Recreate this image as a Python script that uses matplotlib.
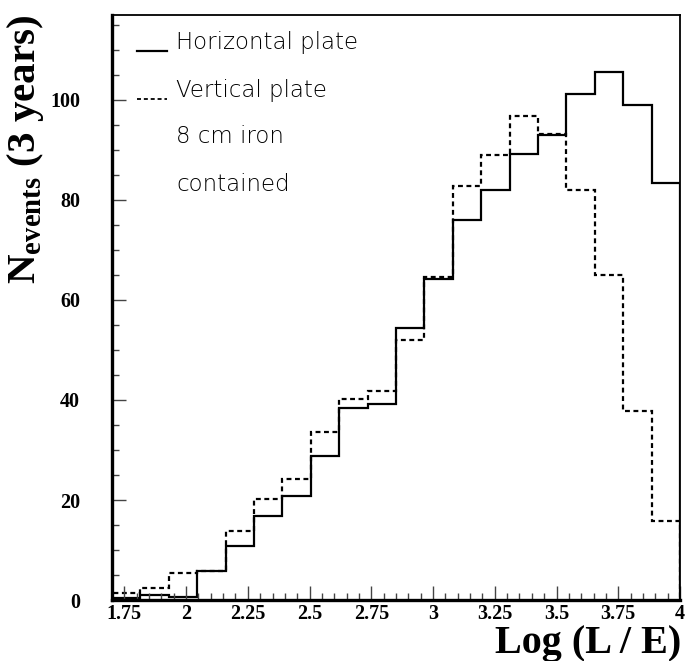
import numpy as np
import matplotlib
matplotlib.use("Agg")
import matplotlib.pyplot as plt

# ---- data ----
bin_edges_range = (1.7, 4.0)
n_bins = 20
horizontal = [0.5, 1.0, 0.6, 5.8, 10.9, 16.9, 20.9, 28.8, 38.5, 39.2,
              54.3, 64.1, 76.0, 82.0, 89.2, 93.0, 101.2, 105.5, 99.0, 83.4]
vertical = [1.5, 2.5, 5.5, 5.8, 13.9, 20.3, 24.2, 33.6, 40.2, 41.7,
            52.0, 64.5, 82.7, 88.9, 96.7, 93.1, 81.9, 65.0, 37.7, 15.9]
xticks = [1.75, 2, 2.25, 2.5, 2.75, 3, 3.25, 3.5, 3.75, 4]
xtick_labels = ["1.75", "2", "2.25", "2.5", "2.75", "3", "3.25", "3.5", "3.75", "4"]
yticks = [0, 20, 40, 60, 80, 100]
legend_lines = ["Horizontal plate", "Vertical plate", "8 cm iron", "contained"]

plt.rcParams['mathtext.fontset'] = 'custom'
plt.rcParams['mathtext.bf'] = 'Liberation Serif:bold'
plt.rcParams['mathtext.rm'] = 'Liberation Serif:bold'

W, H = 686, 661
fig = plt.figure(figsize=(W / 100, H / 100), dpi=100)
x0, x1, ytop, ybot = 112, 680, 15, 600
ax = fig.add_axes([x0 / W, 1 - ybot / H, (x1 - x0) / W, (ybot - ytop) / H])

edges = np.linspace(bin_edges_range[0], bin_edges_range[1], n_bins + 1)
ax.stairs(horizontal, edges, color='black', lw=1.6, baseline=0)
ax.stairs(vertical, edges, color='black', lw=1.6, baseline=0,
          linestyle=(0, (2.2, 1.6)))

ax.set_xlim(1.7, 4.0)
ax.set_ylim(0, 117)

ax.set_xticks(xticks)
ax.set_xticklabels(xtick_labels)
ax.set_xticks(np.arange(1.7, 4.001, 0.05), minor=True)
ax.set_yticks(yticks)
ax.set_yticks(np.arange(0, 116, 5), minor=True)

for lbl in ax.get_xticklabels() + ax.get_yticklabels():
    lbl.set_fontfamily('Liberation Serif')
    lbl.set_fontweight('bold')
    lbl.set_fontsize(14.5)

ax.tick_params(axis='both', which='both', direction='in', top=False, right=False,
               width=1.0, color='#444444')
ax.tick_params(axis='x', which='major', length=10, pad=3)
ax.tick_params(axis='x', which='minor', length=5)
ax.tick_params(axis='y', which='major', length=10, pad=23)
ax.tick_params(axis='y', which='minor', length=5)

ax.spines['left'].set_linewidth(2.4)
ax.spines['bottom'].set_linewidth(2.4)
ax.spines['top'].set_linewidth(1.3)
ax.spines['right'].set_linewidth(1.3)

# legend-like annotations
def axy(py):
    return (ybot - py) / (ybot - ytop)

def axx(px):
    return (px - x0) / (x1 - x0)

ax.plot([axx(137), axx(167)], [axy(50.5), axy(50.5)], transform=ax.transAxes,
        color='black', lw=1.6, clip_on=False)
ax.plot([axx(137), axx(167)], [axy(99), axy(99)], transform=ax.transAxes,
        color='black', lw=1.3, linestyle=(0, (2.2, 1.6)), clip_on=False)
baselines = [49, 97, 143, 191]
for t, b in zip(legend_lines, baselines):
    ax.text(axx(176), axy(b), t, transform=ax.transAxes, ha='left', va='baseline',
            fontsize=16.5, family=['DejaVu Sans'], fontweight='light',
            color='black')

# axis titles
fig.text(26 / W, 1 - 15 / H, r'$\mathbf{N}_{\mathbf{events}}$ (3 years)', rotation=90,
         ha='center', va='top', fontsize=29.5, family='Liberation Serif', fontweight='bold')
fig.text(681 / W, 1 - 653 / H, 'Log (L / E)', ha='right', va='baseline',
         fontsize=29, family='Liberation Serif', fontweight='bold')

fig.savefig('out.png', dpi=100)
